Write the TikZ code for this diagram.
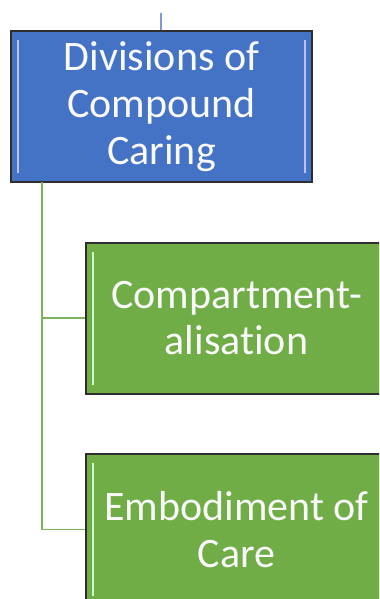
\documentclass[tikz,border=0pt]{standalone}
\usepackage{fontspec}
\setmainfont{Carlito}[Ligatures=NoCommon]
\usepackage{tikz}

\definecolor{boxblue}{HTML}{4472C4}
\definecolor{boxgreen}{HTML}{70AD47}
\definecolor{edgegray}{HTML}{2E2E2E}
\definecolor{linkblue}{HTML}{7E9BD6}
\definecolor{linkgreen}{HTML}{7DB35A}

\begin{document}
\begin{tikzpicture}[x=0.75pt,y=-0.75pt,
    box/.style={draw=edgegray,line width=1.5pt,minimum width=225.75pt,minimum height=113.25pt,
        inner sep=0pt,align=center,text=white!95!gray,
        font=\fontsize{31.5}{35}\selectfont},
    bevel/.style={path picture={
        \draw[#1,line width=2.2pt] ([shift={(7,9)}]path picture bounding box.north west) -- ([shift={(7,-9)}]path picture bounding box.south west);
        \draw[#1,line width=2.2pt] ([shift={(-7,9)}]path picture bounding box.north east) -- ([shift={(-7,-9)}]path picture bounding box.south east);}},
    bluebox/.style={box,fill=boxblue,bevel=blue!25!white},
    greenbox/.style={box,fill=boxgreen,bevel=green!20!white},
    bluelink/.style={draw=linkblue,line width=1.5pt},
    greenlink/.style={draw=linkgreen,line width=1.3pt}]
    \path[use as bounding box,clip] (0,0) rectangle (379,599);

    \coordinate (top) at (161,13);
    \coordinate (trunk) at (42,182);

    \node[bluebox] (divisions) at (161.5,106.5) {Divisions of\\Compound\\Caring};
    \node[greenbox] (compart) at (236.5,318) {Compartment-\\alisation};
    \node[greenbox] (embody) at (236.5,529.5) {Embodiment of\\Care};

    \draw[bluelink] (top) -- (top |- divisions.north); % parent link
    \draw[greenlink] (trunk) |- (compart.west); % first child
    \draw[greenlink] (trunk) |- (embody.west); % second child
\end{tikzpicture}
\end{document}
